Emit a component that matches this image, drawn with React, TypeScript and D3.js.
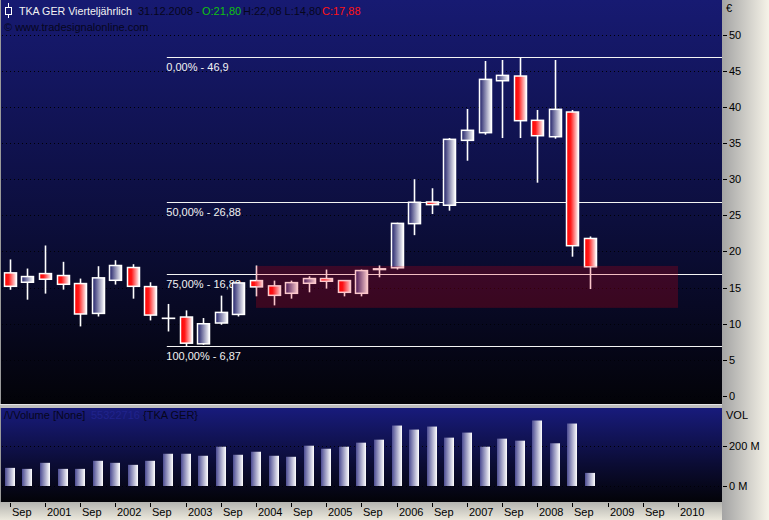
import React from "react";
import * as d3 from "d3";

// ---- data (quarterly candles, TKA GER) ----
const quarters = [
  "2000-Q3", "2000-Q4",
  "2001-Q1", "2001-Q2", "2001-Q3", "2001-Q4",
  "2002-Q1", "2002-Q2", "2002-Q3", "2002-Q4",
  "2003-Q1", "2003-Q2", "2003-Q3", "2003-Q4",
  "2004-Q1", "2004-Q2", "2004-Q3", "2004-Q4",
  "2005-Q1", "2005-Q2", "2005-Q3", "2005-Q4",
  "2006-Q1", "2006-Q2", "2006-Q3", "2006-Q4",
  "2007-Q1", "2007-Q2", "2007-Q3", "2007-Q4",
  "2008-Q1", "2008-Q2", "2008-Q3", "2008-Q4",
];
const opens = [
  17.04, 15.74, 16.94, 16.67, 15.56, 11.43, 16.01, 17.78, 15.14, 10.74,
  10.93, 7.22, 10.1, 11.29, 15.97, 15.24, 14.21, 15.6, 16.25, 15.97,
  14.21, 17.5, 17.74, 23.85, 26.85, 26.4, 35.38, 36.44, 43.63, 44.28,
  38.15, 35.88, 39.3, 21.8,
];
const highs = [
  18.9, 17.64, 20.83, 18.57, 16.25, 17.96, 18.79, 18.24, 15.74, 12.74,
  11.85, 10.79, 13.89, 15.8, 18.06, 15.97, 15.97, 16.57, 17.5, 15.97,
  17.5, 18.06, 23.98, 30.0, 28.75, 35.7, 39.72, 46.36, 46.5, 46.9,
  39.58, 46.5, 39.58, 22.08,
];
const lows = [
  14.7, 13.33, 14.17, 14.72, 9.63, 11.0, 15.42, 13.47, 10.46, 8.93,
  6.87, 7.08, 9.86, 11.0, 13.79, 12.54, 13.47, 14.35, 14.86, 13.79,
  13.79, 16.43, 17.5, 22.26, 25.18, 25.65, 32.56, 36.16, 35.7, 35.7,
  29.52, 35.61, 19.28, 14.8,
];
const closes = [
  15.18, 16.53, 16.16, 15.46, 11.35, 16.35, 18.06, 15.18, 11.2, 10.76,
  7.31, 10.0, 11.57, 15.65, 15.1, 13.93, 15.69, 16.25, 15.88, 14.35,
  17.36, 17.6, 23.89, 26.81, 26.48, 35.52, 36.77, 43.82, 44.37, 38.1,
  36.02, 39.67, 20.8, 17.88,
];
const volumes = [
  90, 85, 115, 85, 85, 125, 115, 105, 125, 160,
  160, 150, 195, 155, 170, 150, 145, 200, 185, 195,
  215, 230, 300, 280, 295, 240, 265, 195, 235, 225,
  325, 212, 310, 65,
];
const xTickLabels = [
  "Sep", "2001", "Sep", "2002", "Sep", "2003", "Sep", "2004", "Sep", "2005",
  "Sep", "2006", "Sep", "2007", "Sep", "2008", "Sep", "2009", "Sep", "2010",
];
const priceTicks = [0, 5, 10, 15, 20, 25, 30, 35, 40, 45, 50];
const volTicks = [0, 200];
const volTickLabels = ["0 M", "200 M"];
const fibLevels = [46.9, 26.88, 16.88, 6.87];
const fibLabels = ["0,00% - 46,9", "50,00% - 26,88", "75,00% - 16,88", "100,00% - 6,87"];
const fibStart = [8.93];
const zoneIndex = [14, 38];
const zonePrice = [12.2, 18.0];

const FONT = "'Liberation Sans', Arial, sans-serif";

export default function App() {
  const W = 769, H = 520;
  const plotR = 722;
  const priceBot = 404;
  const volTop = 408, volBot = 502;

  const x = d3.scaleLinear().domain([0, 38]).range([9.8, 678]);
  const y = d3.scaleLinear().domain([0, 50]).range([396, 34.7]);
  const yv = d3.scaleLinear().domain([0, 200]).range([486, 445.7]);
  const bodyW = 12;
  const volW = 10;
  const px = (v: number) => Math.round(v) + 0.5;

  const tickIdx = xTickLabels.map((_, k) => k * 2);

  return (
    <svg
      width={W}
      height={H}
      style={{ position: "fixed", left: 0, top: 0, display: "block" }}
      fontFamily={FONT}
    >
      <defs>
        <linearGradient id="bgPrice" x1="0" y1="0" x2="0" y2="1">
          <stop offset="0" stopColor="#171a72" />
          <stop offset="0.55" stopColor="#0c0e3c" />
          <stop offset="1" stopColor="#030308" />
        </linearGradient>
        <linearGradient id="bgVol" x1="0" y1="0" x2="0" y2="1">
          <stop offset="0" stopColor="#181b7c" />
          <stop offset="0.6" stopColor="#0b0c34" />
          <stop offset="1" stopColor="#030308" />
        </linearGradient>
        <linearGradient id="axisR" x1="0" y1="0" x2="1" y2="0">
          <stop offset="0" stopColor="#a4a4a4" />
          <stop offset="1" stopColor="#f6f3e8" />
        </linearGradient>
        <linearGradient id="axisB" x1="0" y1="0" x2="0" y2="1">
          <stop offset="0" stopColor="#b4b4b0" />
          <stop offset="1" stopColor="#ebe8dc" />
        </linearGradient>
        <linearGradient id="gUp" x1="0" y1="0" x2="1" y2="0">
          <stop offset="0" stopColor="#1c1c66" />
          <stop offset="1" stopColor="#ffffff" />
        </linearGradient>
        <linearGradient id="gDn" x1="0" y1="0" x2="1" y2="0">
          <stop offset="0" stopColor="#ff0000" />
          <stop offset="0.35" stopColor="#ff1a1a" />
          <stop offset="1" stopColor="#ffffff" />
        </linearGradient>
        <linearGradient id="gVol" x1="0" y1="0" x2="1" y2="0">
          <stop offset="0" stopColor="#4c4c92" />
          <stop offset="1" stopColor="#ffffff" />
        </linearGradient>
      </defs>

      {/* backgrounds */}
      <rect x={0} y={0} width={W} height={H} fill="#c0c0c0" />
      <rect x={0} y={0} width={plotR} height={priceBot} fill="url(#bgPrice)" />
      <rect x={0} y={volTop} width={plotR} height={volBot - volTop} fill="url(#bgVol)" />
      <rect x={plotR} y={0} width={W - plotR} height={H} fill="url(#axisR)" />
      <rect x={0} y={volBot} width={plotR} height={H - volBot} fill="url(#axisB)" />
      <line x1={0.5} y1={0} x2={0.5} y2={volBot} stroke="#9a9a9a" />

      {/* price gridlines */}
      {priceTicks.map((t) => (
        <line
          key={"g" + t}
          x1={2}
          x2={plotR}
          y1={px(y(t))}
          y2={px(y(t))}
          stroke="#000008"
          strokeDasharray="1,3"
        />
      ))}

      {/* header */}
      <g>
        <line x1={8.5} x2={8.5} y1={3} y2={18} stroke="#ffffff" />
        <rect x={5.5} y={7.5} width={6} height={7} fill="#16186e" stroke="#ffffff" />
      </g>
      <text x={19} y={15} fontSize={11} fill="#f2f2f2" textLength={113} lengthAdjust="spacingAndGlyphs">
        TKA GER Vierteljährlich
      </text>
      <text x={138} y={15} fontSize={11} fill="#06061c">31.12.2008 -</text>
      <text x={202} y={15} fontSize={11} fill="#0fc00f">O:21,80</text>
      <text x={243} y={15} fontSize={11} fill="#06061c">H:22,08 L:14,80</text>
      <text x={322} y={15} fontSize={11} fill="#ff1414">C:17,88</text>
      <text x={4} y={31} fontSize={11} fill="#06061c">© www.tradesignalonline.com</text>

      {/* fib lines */}
      {fibLevels.map((f, i) => (
        <g key={"f" + i}>
          <line
            x1={x(fibStart[0])}
            x2={plotR}
            y1={px(y(f))}
            y2={px(y(f))}
            stroke="#f4f4f4"
            strokeWidth={1}
          />
          <text x={x(fibStart[0]) - 0.5} y={px(y(f)) + 13.5} fontSize={11} fill="#f2f2f2">
            {fibLabels[i]}
          </text>
        </g>
      ))}

      {/* candles */}
      {quarters.map((q, i) => {
        const o = opens[i], c = closes[i], h = highs[i], l = lows[i];
        const cx = px(x(i));
        const top = y(Math.max(o, c));
        const bot = y(Math.min(o, c));
        const up = c >= o;
        return (
          <g key={q}>
            <line x1={cx} x2={cx} y1={y(h)} y2={y(l)} stroke="#ffffff" strokeWidth={1.6} />
            <rect
              x={Math.round(x(i)) - bodyW / 2 + 0.5}
              y={top}
              width={bodyW}
              height={Math.max(0.01, bot - top)}
              fill={up ? "url(#gUp)" : "url(#gDn)"}
              stroke="#ffffff"
              strokeWidth={1.5}
            />
          </g>
        );
      })}

      {/* zone */}
      <rect
        x={x(zoneIndex[0])}
        y={y(zonePrice[1])}
        width={x(zoneIndex[1]) - x(zoneIndex[0])}
        height={y(zonePrice[0]) - y(zonePrice[1])}
        fill="#ee0010"
        fillOpacity={0.22}
      />

      {/* right price axis */}
      <text x={726} y={12} fontSize={11} fill="#000">€</text>
      {priceTicks.map((t) => (
        <g key={"t" + t}>
          <line x1={723} x2={727} y1={px(y(t))} y2={px(y(t))} stroke="#000" />
          <text x={729} y={y(t) + 4} fontSize={11} fill="#000">
            {t}
          </text>
        </g>
      ))}

      {/* panel separator */}
      <rect x={0} y={priceBot} width={plotR} height={volTop - priceBot} fill="#bdbdbd" />
      <line x1={0} x2={plotR} y1={priceBot + 0.5} y2={priceBot + 0.5} stroke="#e4e4e4" />

      {/* volume */}
      {volTicks.map((t) => (
        <line
          key={"vg" + t}
          x1={2}
          x2={plotR}
          y1={px(yv(t))}
          y2={px(yv(t))}
          stroke="#000008"
          strokeDasharray="1,3"
        />
      ))}
      {volumes.map((v, i) => (
        <rect
          key={"v" + i}
          x={Math.round(x(i)) - volW / 2}
          y={yv(v)}
          width={volW}
          height={yv(0) - yv(v)}
          fill="url(#gVol)"
        />
      ))}
      <text x={4} y={419} fontSize={11} fill="#06061c">/\/Volume [None]</text>
      <text x={91} y={419} fontSize={11} fill="#20238c">55322716</text>
      <text x={143} y={419} fontSize={11} fill="#06061c">{"{TKA GER}"}</text>
      <text x={726} y={419} fontSize={11} fill="#000">VOL</text>
      {volTicks.map((t, k) => (
        <g key={"vt" + t}>
          <line x1={723} x2={727} y1={px(yv(t))} y2={px(yv(t))} stroke="#000" />
          <text x={729} y={yv(t) + 4} fontSize={11} fill="#000">
            {volTickLabels[k]}
          </text>
        </g>
      ))}

      {/* x axis */}
      {tickIdx.map((ti, k) => (
        <g key={"x" + k}>
          <line x1={px(x(ti))} x2={px(x(ti))} y1={503} y2={507} stroke="#000" />
          <text x={px(x(ti)) + 1.5} y={516} fontSize={11} fill="#000">
            {xTickLabels[k]}
          </text>
        </g>
      ))}
    </svg>
  );
}
